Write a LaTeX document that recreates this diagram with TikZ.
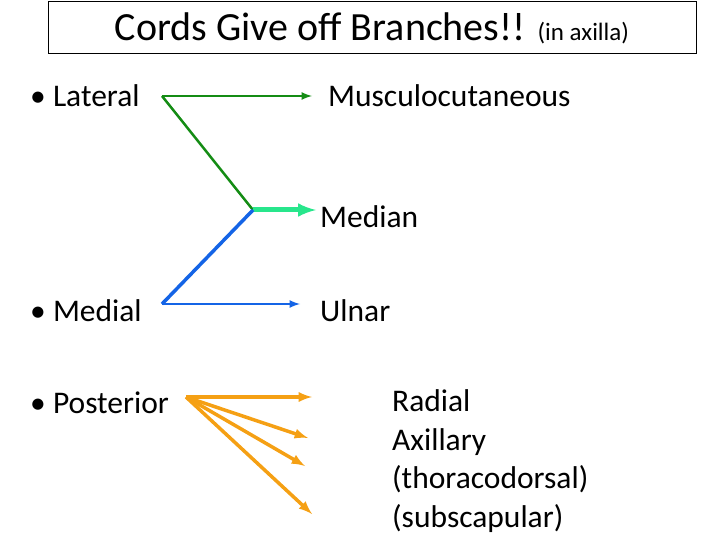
\documentclass[tikz,border=0pt]{standalone}
\usepackage{fontspec}
\setmainfont{Carlito}
\usetikzlibrary{positioning}
\tikzset{>=latex}
\definecolor{latgreen}{RGB}{20,140,20}
\definecolor{medgreen}{RGB}{40,230,140}
\definecolor{medblue}{RGB}{20,100,230}
\definecolor{postorange}{RGB}{245,160,20}
\tikzset{
  txt/.style={anchor=west,inner sep=0pt,font=\fontsize{31.5}{36}\selectfont},
  cord/.style={line width=2.5pt,->},
}
\begin{document}
\begin{tikzpicture}[x=1pt,y=-1pt]
  \useasboundingbox (0,0) rectangle (720,540);
  \draw (48,1) rectangle (696,53);
  \node[inner sep=0pt] (title) at (372,28) {\fontsize{40}{46}\selectfont Cords Give off Branches!! \fontsize{25}{30}\selectfont(in axilla)};

  \node[txt] (lat) at (30,96) {\textbullet\ Lateral};
  \node[txt] (med) at (30,311) {\textbullet\ Medial};
  \node[txt] (post) at (30,403) {\textbullet\ Posterior};

  \node[txt] (musc) at (328,96) {Musculocutaneous};
  \node[txt] (median) at (320,217) {Median};
  \node[txt] (ulnar) at (320,311) {Ulnar};
  \node[txt,align=left,font=\fontsize{31.5}{38.5}\selectfont] (rad) at (392,461)
    {Radial\\Axillary\\(thoracodorsal)\\(subscapular)};

  \coordinate (latj) at (162,96);
  \coordinate (medj) at (162,304);
  \coordinate (join) at (253,210);
  \coordinate (postj) at (186,397);

  % lateral cord
  \draw[cord,latgreen] (latj) -- (312,96);
  \draw[line width=2.5pt,latgreen] (latj) -- (join);
  % median
  \draw[line width=5pt,medgreen,->] (join) -- (316,210);
  % medial cord
  \draw[line width=3.5pt,medblue] (medj) -- (join);
  \draw[cord,medblue] (medj) -- (300,304);
  % posterior cord
  \foreach \e in {(312,397),(308,438),(305,466),(312,514)}
    \draw[line width=3.5pt,postorange,->] (postj) -- \e;
\end{tikzpicture}
\end{document}
